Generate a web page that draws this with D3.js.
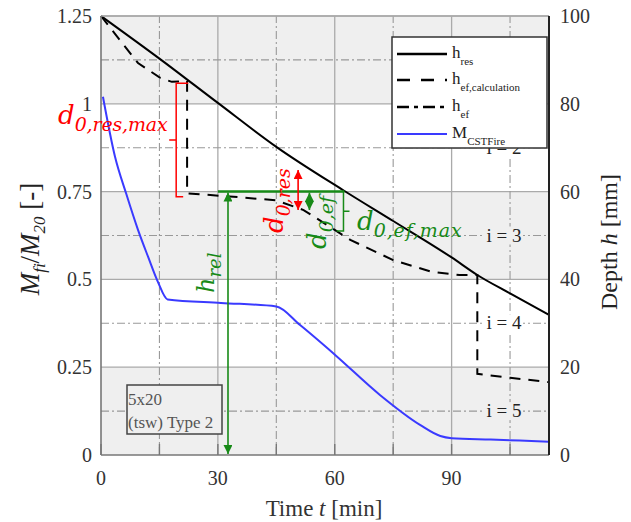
<!DOCTYPE html>
<html><head><meta charset="utf-8">
<script src="https://cdn.jsdelivr.net/npm/d3@7"></script>
<style>body{margin:0;background:#fff}svg{display:block}</style>
</head><body><svg id="c" width="631" height="522"></svg>
<script>
// ---- data ----
const timeTicks = [0, 30, 60, 90];
const timeMinor = [15, 45, 75, 105];
const ratioTicks = [0, 0.25, 0.5, 0.75, 1, 1.25];
const ratioTickLabels = ["0", "0.25", "0.5", "0.75", "1", "1.25"];
const ratioMinor = [0.125, 0.375, 0.625, 0.875, 1.125];
const depthTicks = [0, 20, 40, 60, 80, 100];
const iLabels = ["i = 2", "i = 3", "i = 4", "i = 5"];
const iLevels = [0.875, 0.625, 0.375, 0.125];

const tRes = [0, 15, 30, 45, 62.4, 75, 90, 96.6, 105, 115];
const hRes = [100, 90.3, 80.2, 70.2, 60.2, 53.3, 45.0, 41.0, 36.8, 31.9];

const tCalc = [0, 4.4, 9.5, 15.2, 18.2, 22.1, 22.1, 33, 45, 52, 64, 75, 85, 92, 96.6, 96.6, 105, 115];
const hCalc = [100, 95, 89.3, 85.9, 85.0, 85.2, 59.6, 58.9, 58.0, 55.8, 49, 44.4, 41.7, 41.0, 41.0, 18.5, 17.6, 16.6];

const tM = [0.5, 3.6, 6.5, 9.5, 12.1, 14.6, 17.1, 30.8, 45, 51.1, 60.1, 71.6, 82, 87.1, 90, 100, 115];
const mM = [1.02, 0.849, 0.743, 0.641, 0.564, 0.493, 0.443, 0.433, 0.423, 0.37, 0.285, 0.171, 0.085, 0.054, 0.048, 0.044, 0.038];

const legendLabels = [["h", "res"], ["h", "ef,calculation"], ["h", "ef"], ["M", "CSTFire"]];

// annotation values (mm / min)
const hRel = 60, tRelArrow = 32.6, tRelStart = 30, tRelEnd = 62.5;
const resMaxTop = 84.7, resMaxBot = 58.8, tResMax = 19.3;
const d0resTop = 64.9, d0resBot = 55.8, tD0res = 50.6;
const d0efBot = 55.8, tD0ef = 53.5;
const d0efMaxBot = 51.0;

// ---- scales ----
const x = d3.scaleLinear().domain([0, 115]).range([101, 549]);
const y = d3.scaleLinear().domain([0, 1.25]).range([455, 16]);
const yR = d3.scaleLinear().domain([0, 100]).range([455, 16]);

const svg = d3.select("#c");
const serif = "'Liberation Serif','Times New Roman',serif";
const mathF = "'DejaVu Serif',serif";
const RED = "#ff0000", GREEN = "#178a17", BLUE = "#3a3aff";

// background bands
const bands = [[0, 0.25, "#efefef"], [0.25, 0.5, "#ffffff"], [0.5, 0.75, "#efefef"], [0.75, 1, "#ffffff"], [1, 1.25, "#efefef"]];
svg.append("g").selectAll("rect").data(bands).join("rect")
  .attr("x", x(0)).attr("width", x(115) - x(0))
  .attr("y", d => y(d[1])).attr("height", d => y(d[0]) - y(d[1]))
  .attr("fill", d => d[2]);

// grid
const grid = svg.append("g");
grid.selectAll(".hmaj").data(ratioTicks.slice(1)).join("line")
  .attr("x1", x(0)).attr("x2", x(115)).attr("y1", d => y(d)).attr("y2", d => y(d))
  .attr("stroke", "#aaa").attr("stroke-width", 1.3);
grid.selectAll(".vmaj").data(timeTicks.slice(1)).join("line")
  .attr("y1", y(0)).attr("y2", y(1.25)).attr("x1", d => x(d)).attr("x2", d => x(d))
  .attr("stroke", "#aaa").attr("stroke-width", 1.3);
grid.selectAll(".hmin").data(ratioMinor).join("line")
  .attr("x1", x(0)).attr("x2", x(115)).attr("y1", d => y(d)).attr("y2", d => y(d))
  .attr("stroke", "#999").attr("stroke-width", 1.1).attr("stroke-dasharray", "8,3,2,3");
grid.selectAll(".vmin").data(timeMinor).join("line")
  .attr("y1", y(0)).attr("y2", y(1.25)).attr("x1", d => x(d)).attr("x2", d => x(d))
  .attr("stroke", "#999").attr("stroke-width", 1.1).attr("stroke-dasharray", "8,3,2,3");

// i labels
const bandColor = v => { const b = bands.find(b => v >= b[0] && v < b[1]); return b ? b[2] : "#fff"; };
const il = svg.append("g");
iLabels.forEach((t, k) => {
  il.append("rect").attr("x", 485).attr("y", y(iLevels[k]) - 9).attr("width", 38).attr("height", 18).attr("fill", bandColor(iLevels[k]));
  il.append("text").attr("x", 504).attr("y", y(iLevels[k]) + 6).attr("text-anchor", "middle")
    .attr("font-family", serif).attr("font-size", 19).attr("fill", "#222").text(t);
});

// curves
const lineR = d3.line().x(d => x(d[0])).y(d => yR(d[1]));
svg.append("path").datum(tRes.map((t, i) => [t, hRes[i]]))
  .attr("d", lineR.curve(d3.curveMonotoneX)).attr("fill", "none").attr("stroke", "#000").attr("stroke-width", 2);
svg.append("path").datum(tCalc.map((t, i) => [t, hCalc[i]]))
  .attr("d", d3.line().x(d => x(d[0])).y(d => yR(d[1]))).attr("fill", "none")
  .attr("stroke", "#000").attr("stroke-width", 2).attr("stroke-dasharray", "11,8");
svg.append("path").datum(tM.map((t, i) => [t, mM[i]]))
  .attr("d", d3.line().x(d => x(d[0])).y(d => y(d[1])).curve(d3.curveMonotoneX))
  .attr("fill", "none").attr("stroke", BLUE).attr("stroke-width", 2);

// axes frame
svg.append("line").attr("x1", x(0)).attr("x2", x(115)).attr("y1", y(1.25)).attr("y2", y(1.25)).attr("stroke", "#aaa").attr("stroke-width", 1.3);
svg.append("line").attr("x1", x(0)).attr("x2", x(0)).attr("y1", y(0)).attr("y2", y(1.25)).attr("stroke", "#777").attr("stroke-width", 1.6);
svg.append("line").attr("x1", x(0)).attr("x2", x(115)).attr("y1", y(0)).attr("y2", y(0)).attr("stroke", "#777").attr("stroke-width", 1.6);
svg.append("line").attr("x1", x(115)).attr("x2", x(115)).attr("y1", y(0)).attr("y2", y(1.25)).attr("stroke", "#222").attr("stroke-width", 2);
svg.append("g").selectAll("line").data(timeTicks.concat(timeMinor)).join("line")
  .attr("x1", d => x(d)).attr("x2", d => x(d)).attr("y1", y(0)).attr("y2", y(0) - 11)
  .attr("stroke", "#777").attr("stroke-width", 1.4);

// tick labels
svg.append("g").selectAll("text").data(ratioTicks).join("text")
  .attr("x", 92).attr("y", d => y(d) + 7).attr("text-anchor", "end")
  .attr("font-family", serif).attr("font-size", 20).attr("fill", "#333")
  .text((d, i) => ratioTickLabels[i]);
svg.append("g").selectAll("text").data(depthTicks).join("text")
  .attr("x", 560).attr("y", d => yR(d) + 7)
  .attr("font-family", serif).attr("font-size", 20).attr("fill", "#333").text(d => d);
svg.append("g").selectAll("text").data(timeTicks).join("text")
  .attr("x", d => x(d)).attr("y", 485).attr("text-anchor", "middle")
  .attr("font-family", serif).attr("font-size", 20).attr("fill", "#333").text(d => d);

// axis titles
const xt = svg.append("text").attr("x", 324).attr("y", 516).attr("text-anchor", "middle")
  .attr("font-family", serif).attr("font-size", 23).attr("fill", "#333");
xt.append("tspan").text("Time ");
xt.append("tspan").attr("font-style", "italic").text("t");
xt.append("tspan").text(" [min]");

const yt = svg.append("text").attr("transform", "translate(39,239) rotate(-90)").attr("text-anchor", "middle")
  .attr("font-family", serif).attr("font-size", 27).attr("fill", "#222");
yt.append("tspan").attr("font-style", "italic").text("M");
yt.append("tspan").attr("font-style", "italic").attr("font-size", 17).attr("dy", 6).text("fi");
yt.append("tspan").attr("dy", -6).text("/");
yt.append("tspan").attr("font-style", "italic").text("M");
yt.append("tspan").attr("font-style", "italic").attr("font-size", 17).attr("dy", 6).text("20");
yt.append("tspan").attr("dy", -6).text(" [-]");

const rt = svg.append("text").attr("transform", "translate(617,242) rotate(-90)").attr("text-anchor", "middle")
  .attr("font-family", serif).attr("font-size", 24).attr("fill", "#222");
rt.append("tspan").text("Depth ");
rt.append("tspan").attr("font-style", "italic").text("h");
rt.append("tspan").text(" [mm]");

// info box
svg.append("rect").attr("x", 127).attr("y", 385).attr("width", 95).attr("height", 49)
  .attr("fill", "#efefef").attr("stroke", "#444").attr("stroke-width", 1.5);
svg.append("text").attr("x", 128).attr("y", 405).attr("font-family", serif).attr("font-size", 17).attr("fill", "#555").text("5x20");
svg.append("text").attr("x", 128).attr("y", 428).attr("font-family", serif).attr("font-size", 17).attr("fill", "#555").text("(tsw) Type 2");

// annotations
const defs = svg.append("defs");
[["aR", RED], ["aG", GREEN]].forEach(([id, c]) => {
  defs.append("marker").attr("id", id).attr("viewBox", "0 0 10 10").attr("refX", 10).attr("refY", 5)
    .attr("markerWidth", 9).attr("markerHeight", 9).attr("markerUnits", "userSpaceOnUse").attr("orient", "auto-start-reverse")
    .append("path").attr("d", "M0,0L10,5L0,10z").attr("fill", c);
});
const ann = svg.append("g").attr("fill", "none");
ann.append("path").attr("d", `M${x(tResMax) + 12},${yR(resMaxTop)}H${x(tResMax)}V${yR(resMaxBot)}H${x(tResMax) + 7}M${x(tResMax)},${(yR(resMaxTop) + yR(resMaxBot)) / 2}h-7`)
  .attr("stroke", RED).attr("stroke-width", 1.5);
ann.append("line").attr("x1", x(tRelStart)).attr("x2", x(tRelEnd)).attr("y1", yR(hRel)).attr("y2", yR(hRel))
  .attr("stroke", GREEN).attr("stroke-width", 2.5);
ann.append("line").attr("x1", x(tRelArrow)).attr("x2", x(tRelArrow)).attr("y1", yR(hRel) + 1).attr("y2", yR(0) - 1)
  .attr("stroke", GREEN).attr("stroke-width", 1.6).attr("marker-start", "url(#aG)").attr("marker-end", "url(#aG)");
ann.append("line").attr("x1", x(tD0res)).attr("x2", x(tD0res)).attr("y1", yR(d0resTop)).attr("y2", yR(d0resBot))
  .attr("stroke", RED).attr("stroke-width", 1.6).attr("marker-start", "url(#aR)").attr("marker-end", "url(#aR)");
ann.append("line").attr("x1", x(tD0ef)).attr("x2", x(tD0ef)).attr("y1", yR(hRel) + 1).attr("y2", yR(d0efBot))
  .attr("stroke", GREEN).attr("stroke-width", 1.6).attr("marker-start", "url(#aG)").attr("marker-end", "url(#aG)");
const gbx = x(tRelEnd) - 1;
ann.append("path").attr("d", `M${gbx},${yR(hRel)}V${yR(d0efMaxBot)}h-7M${gbx},${(yR(hRel) + yR(d0efMaxBot)) / 2}h6`)
  .attr("stroke", GREEN).attr("stroke-width", 1.5);

function mathLabel(px, py, rot, color, main, sub, mainSize, subSize, subLen) {
  const t = svg.append("text").attr("transform", `translate(${px},${py})` + (rot ? " rotate(-90)" : ""))
    .attr("font-family", mathF).attr("font-style", "italic").attr("fill", color);
  t.append("tspan").attr("font-size", mainSize).text(main);
  const s = t.append("tspan").attr("font-size", subSize).attr("dy", 7).text(sub);
  if (subLen) s.attr("textLength", subLen).attr("lengthAdjust", "spacing");
}
mathLabel(58, 124, false, RED, "d", "0,res,max", 26, 19, 93);
mathLabel(283, 233, true, RED, "d", "0,res", 26, 19, null);
mathLabel(326, 249, true, GREEN, "d", "0,ef", 26, 19, null);
mathLabel(357, 230, false, GREEN, "d", "0,ef,max", 26, 19, 88);
mathLabel(214, 293, true, GREEN, "h", "rel", 24, 18, null);

// legend
const lg = svg.append("g");
lg.append("rect").attr("x", 392).attr("y", 37).attr("width", 155).attr("height", 111)
  .attr("fill", "#fff").attr("stroke", "#333").attr("stroke-width", 1.5);
const legY = [54, 80, 107, 134];
const legStyle = [
  {c: "#000", w: 2.6, d: null},
  {c: "#000", w: 2.6, d: "13,11"},
  {c: "#000", w: 2.6, d: "12,5,4,5"},
  {c: BLUE, w: 2.2, d: null}
];
legendLabels.forEach((lab, i) => {
  const ln = lg.append("line").attr("x1", 397).attr("x2", 447).attr("y1", legY[i]).attr("y2", legY[i])
    .attr("stroke", legStyle[i].c).attr("stroke-width", legStyle[i].w);
  if (legStyle[i].d) ln.attr("stroke-dasharray", legStyle[i].d);
  const t = lg.append("text").attr("x", 452).attr("y", legY[i] + 4).attr("font-family", serif).attr("fill", "#222");
  t.append("tspan").attr("font-size", 17).text(lab[0]);
  t.append("tspan").attr("font-size", 11).attr("dy", 7).text(lab[1]);
});
</script></body></html>
